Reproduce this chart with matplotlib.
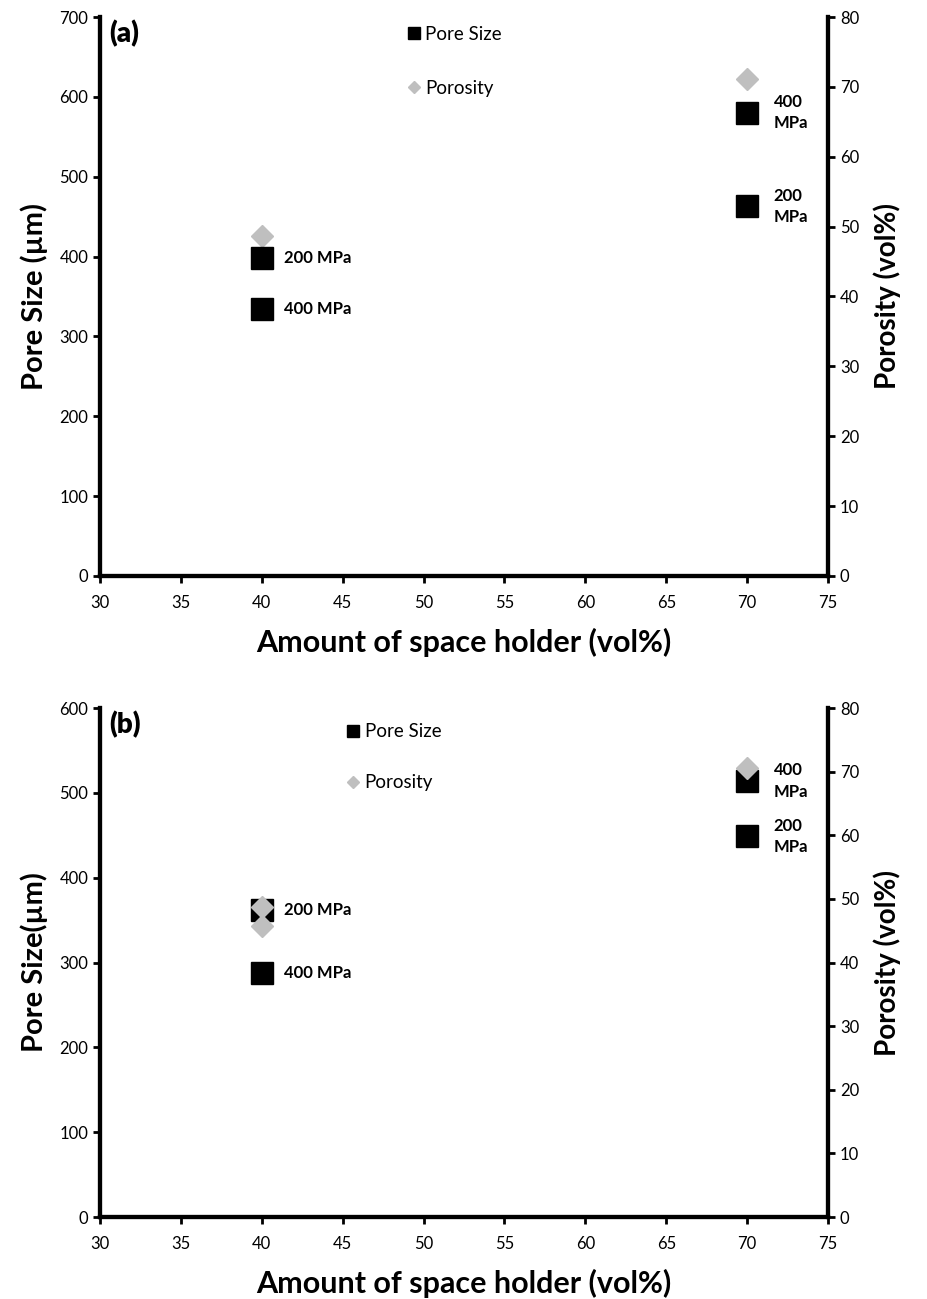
import matplotlib.pyplot as plt
from matplotlib.lines import Line2D

plt.rcParams['font.family'] = ['Lato', 'DejaVu Sans']

# panel (a)
a_x = [40, 40, 70, 70]
a_pore = [398, 334, 580, 463]
a_press = ['200 MPa', '400 MPa', '400\nMPa', '200\nMPa']
a_por_x = [40, 70]
a_por = [48.6, 71.1]

# panel (b)
b_x = [40, 40, 70, 70]
b_pore = [362, 288, 514, 449]
b_press = ['200 MPa', '400 MPa', '400\nMPa', '200\nMPa']
b_por_x = [40, 40, 70]
b_por = [48.7, 45.7, 70.6]

xticks = list(range(30, 80, 5))

fig = plt.figure(figsize=(9.28, 12.99), dpi=100)


def panel(rect, xs, pore, press, por_x, por, ymax, ylabel, tag, por_on_top, leg_x, leg_y, leg_sp):
    ax = fig.add_axes(rect)
    ax2 = ax.twinx()
    ax.set_xlim(30, 75)
    ax.set_ylim(0, ymax)
    ax2.set_ylim(0, 80)
    ax.set_xticks(xticks)
    ax.set_yticks(range(0, ymax + 1, 100))
    ax2.set_yticks(range(0, 81, 10))
    for a in (ax, ax2):
        for s in a.spines.values():
            s.set_linewidth(3)
        a.spines['top'].set_visible(False)
        a.tick_params(labelsize=12, width=2, length=5)
    ax.tick_params(axis='x', pad=9)
    if por_on_top:
        ax.set_zorder(0)
        ax2.set_zorder(1)
        ax2.patch.set_visible(False)
    else:
        ax.set_zorder(1)
        ax2.set_zorder(0)
        ax.patch.set_visible(False)
    ax.plot(xs, pore, 's', color='black', markersize=16, linestyle='none')
    ax2.plot(por_x, por, 'D', color='#bfbfbf', markersize=11, linestyle='none')
    for x, y, t in zip(xs, pore, press):
        dx = 16 if x == 40 else 19
        ax.annotate(t, (x, y), xytext=(dx, 0), textcoords='offset points',
                    fontsize=12, fontweight='bold', va='center', ha='left',
                    linespacing=1.4, zorder=5)
    ax.set_xlabel('Amount of space holder (vol%)', fontsize=22, fontweight='bold', labelpad=12)
    ax.set_ylabel(ylabel, fontsize=21, fontweight='bold', labelpad=8)
    ax2.set_ylabel('Porosity (vol%)', fontsize=20, fontweight='bold', labelpad=10)
    ax.text(0.012, 0.995, tag, transform=ax.transAxes, fontsize=20,
            fontweight='heavy', va='top', ha='left', zorder=6)
    handles = [Line2D([], [], marker='s', color='black', linestyle='none', markersize=8),
               Line2D([], [], marker='D', color='#bfbfbf', linestyle='none', markersize=6)]
    top = ax if not por_on_top else ax2
    top.legend(handles, ['Pore Size', 'Porosity'], loc='upper left',
               bbox_to_anchor=(leg_x, leg_y), frameon=False, fontsize=13.5,
               labelspacing=leg_sp, handletextpad=0.1, handlelength=1.0)
    return ax


panel([0.1078, 0.5566, 0.7845, 0.4303], a_x, a_pore, a_press, a_por_x, a_por,
      700, 'Pore Size (µm)', '(a)', False, 0.395, 1.015, 2.0)
panel([0.1078, 0.0631, 0.7845, 0.3918], b_x, b_pore, b_press, b_por_x, b_por,
      600, 'Pore Size(µm)', '(b)', True, 0.312, 1.003, 1.8)

fig.savefig('out.png', dpi=100)
